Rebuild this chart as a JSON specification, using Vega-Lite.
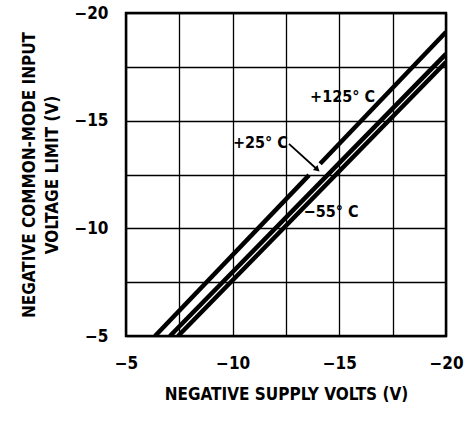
{
  "$schema": "https://vega.github.io/schema/vega-lite/v6.json",
  "width": 320,
  "height": 323,
  "autosize": {"type": "none"},
  "padding": {"left": 126, "top": 13, "right": 23, "bottom": 85},
  "background": "white",
  "config": {
    "view": {"stroke": "black", "strokeWidth": 2.5},
    "font": "DejaVu Sans Condensed"
  },
  "datasets": {
    "curves": [
      {"series": "+125 a", "vs": -6.36, "vcm": -5},
      {"series": "+125 a", "vs": -13.58, "vcm": -12.47},
      {"series": "+125 b", "vs": -14.1, "vcm": -13.0},
      {"series": "+125 b", "vs": -20, "vcm": -19.12},
      {"series": "+25", "vs": -7.06, "vcm": -5},
      {"series": "+25", "vs": -20, "vcm": -18.1},
      {"series": "-55", "vs": -7.44, "vcm": -5},
      {"series": "-55", "vs": -20, "vcm": -17.72}
    ],
    "arrow": [
      {"vs": -12.64, "vcm": -13.92},
      {"vs": -13.9, "vcm": -12.79}
    ],
    "head": [
      {"vs": -13.97, "vcm": -12.73}
    ],
    "labels": [
      {"label": "+125° C", "vs": -15.15, "vcm": -16.1},
      {"label": "+25° C", "vs": -11.3, "vcm": -13.96},
      {"label": "−55° C", "vs": -14.61, "vcm": -10.76}
    ]
  },
  "encoding": {
    "x": {
      "field": "vs",
      "type": "quantitative",
      "scale": {"domain": [-5, -20], "nice": false, "zero": false},
      "axis": {
        "values": [-5, -7.5, -10, -12.5, -15, -17.5, -20],
        "labelExpr": "datum.value % 5 === 0 ? datum.label : ''",
        "title": "NEGATIVE SUPPLY VOLTS (V)",
        "grid": true,
        "gridColor": "black",
        "gridOpacity": 1,
        "gridWidth": 1.3,
        "domain": false,
        "ticks": false,
        "labelFontSize": 17,
        "labelFontWeight": "bold",
        "labelColor": "black",
        "labelPadding": 19,
        "labelDx": -4,
        "labelFlush": false,
        "titleFontSize": 17,
        "titleFontWeight": "bold",
        "titleColor": "black",
        "titlePadding": 15
      }
    },
    "y": {
      "field": "vcm",
      "type": "quantitative",
      "scale": {"domain": [-5, -20], "nice": false, "zero": false},
      "axis": {
        "values": [-5, -7.5, -10, -12.5, -15, -17.5, -20],
        "labelExpr": "datum.value % 5 === 0 ? datum.label : ''",
        "title": ["NEGATIVE COMMON-MODE INPUT", "VOLTAGE LIMIT (V)"],
        "grid": true,
        "gridColor": "black",
        "gridOpacity": 1,
        "gridWidth": 1.3,
        "domain": false,
        "ticks": false,
        "labelFontSize": 17,
        "labelFontWeight": "bold",
        "labelColor": "black",
        "labelPadding": 18,
        "labelFlush": false,
        "titleFontSize": 17,
        "titleFontWeight": "bold",
        "titleColor": "black",
        "titleLineHeight": 23,
        "titlePadding": 12
      }
    }
  },
  "layer": [
    {
      "data": {"name": "curves"},
      "mark": {"type": "line", "color": "black", "strokeWidth": 4.5, "clip": true},
      "encoding": {"detail": {"field": "series"}}
    },
    {
      "data": {"name": "arrow"},
      "mark": {"type": "line", "color": "black", "strokeWidth": 1.8},
      "encoding": {}
    },
    {
      "data": {"name": "head"},
      "mark": {"type": "point", "shape": "triangle-right", "angle": 42, "size": 45, "filled": true, "color": "black", "opacity": 1},
      "encoding": {}
    },
    {
      "data": {"name": "labels"},
      "mark": {"type": "text", "fontSize": 16, "fontWeight": "bold", "color": "black", "align": "center", "baseline": "middle"},
      "encoding": {"text": {"field": "label"}}
    }
  ]
}
